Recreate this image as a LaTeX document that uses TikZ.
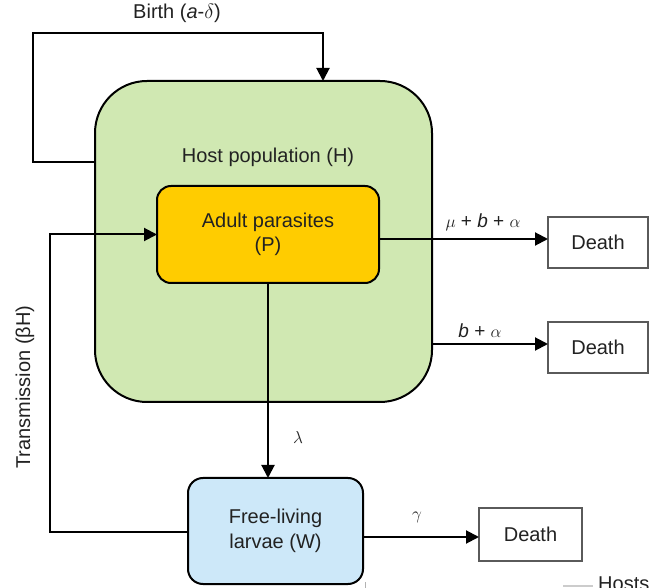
\documentclass[tikz,border=0pt]{standalone}
\usepackage{fontspec}
\setmainfont{Liberation Sans}
\usetikzlibrary{arrows.meta,calc}
\definecolor{hostgreen}{HTML}{D0E8B2}
\definecolor{parasitegold}{HTML}{FFCC00}
\definecolor{larvablue}{HTML}{CDE8F9}
\definecolor{deathgray}{HTML}{5A5A5A}
\definecolor{txt}{HTML}{222222}
\tikzset{
  box/.style={draw=black, line width=2pt, outer sep=0pt, inner sep=0pt, align=center, text=txt},
  deathbox/.style={draw=deathgray, line width=1.4pt, fill=white, outer sep=0pt, inner sep=0pt, text=txt},
  arr/.style={line width=2pt, draw=black, -{Triangle[length=13pt,width=13pt]}},
  lbl/.style={inner sep=0pt, text=txt},
  bigtxt/.style={font=\fontsize{20}{24.5}\selectfont},
  mathtxt/.style={font=\fontsize{19}{22}\selectfont},
}
\begin{document}
\begin{tikzpicture}[x=1pt,y=-1pt]
\clip (0,0) rectangle (649,588);
\useasboundingbox (0,0) rectangle (649,588);
% Host population
\node[box, fill=hostgreen, rounded corners=52pt, minimum width=337pt, minimum height=321pt] (H) at (263.5,241.5) {};
\node[lbl, bigtxt] (Hlabel) at (268,157) {Host population (H)};
% Adult parasites
\node[box, fill=parasitegold, rounded corners=14pt, minimum width=222pt, minimum height=97pt, bigtxt] (P) at (268,234.5) {Adult parasites\\(P)};
% Free-living larvae
\node[box, fill=larvablue, rounded corners=15pt, minimum width=175pt, minimum height=106pt, bigtxt] (W) at (275.5,531) {Free-living\\larvae (W)};
% Death boxes
\node[deathbox, minimum width=100pt, minimum height=51pt, bigtxt] (D1) at (598,242.5) {Death};
\node[deathbox, minimum width=100pt, minimum height=51pt, bigtxt] (D2) at (598,347.5) {Death};
\node[deathbox, minimum width=103pt, minimum height=53pt, bigtxt] (D3) at (530.5,534.5) {Death};
% helper coordinates
\coordinate (bA) at (33,162);
\coordinate (bB) at (323,33);
\coordinate (m1) at (0,239);
\coordinate (m2) at (0,344);
\coordinate (m3) at (0,537);
\coordinate (t1) at (50,532);
% Birth loop
\draw[arr] (H.west |- bA) -- (bA) -- (bA |- bB) -- (bB) -- (bB |- H.north);
\node[lbl, bigtxt] (birth) at (177,13) {Birth (\textit{a}-$\delta$)};
% Deaths from host
\draw[arr] (P.east |- m1) -- (D1.west |- m1);
\node[lbl, mathtxt] (l1) at (483,222) {$\mu$ + \textit{b} + $\alpha$};
\draw[arr] (H.east |- m2) -- (D2.west |- m2);
\node[lbl, mathtxt] (l2) at (480,331) {\textit{b} + $\alpha$};
% lambda
\draw[arr] (P.south) -- (P.south |- W.north);
\node[lbl, mathtxt] (l3) at (298,438) {$\lambda$};
% gamma
\draw[arr] (W.east |- m3) -- (D3.west |- m3);
\node[lbl, mathtxt] (l4) at (417,517) {$\gamma$};
% Transmission
\draw[arr] (W.west |- t1) -- (t1) -- (t1 |- P.west) -- (P.west);
\node[lbl, bigtxt, rotate=90] (trans) at (25,387) {Transmission (βH)};
% cut-off legend at bottom
\coordinate (tk) at (365,582);
\draw[line width=0.8pt, draw=gray!60] (tk) -- (365,590);
\coordinate (lg) at (563,586);
\draw[line width=2pt, draw=gray!40] (lg) -- (593,586);
\node[lbl, bigtxt, anchor=north west] (hosts) at (598,577) {Hosts};
\end{tikzpicture}
\end{document}
